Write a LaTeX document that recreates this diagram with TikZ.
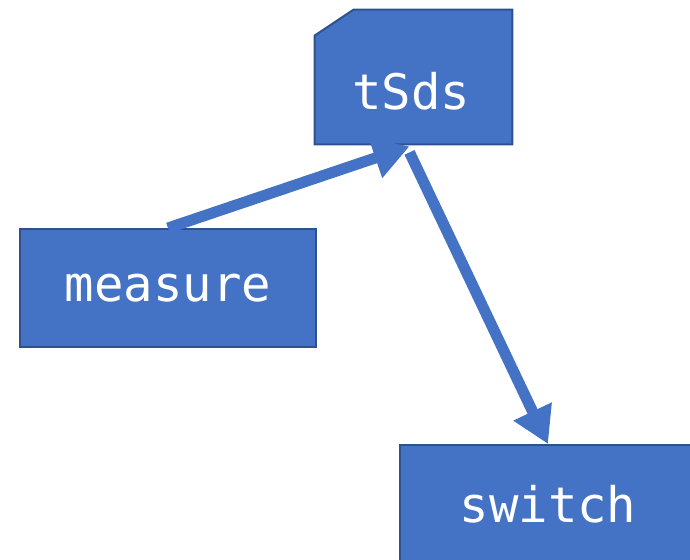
\documentclass[tikz,border=0pt]{standalone}
\usepackage{fontspec}
\setmonofont{DejaVu Sans Mono}
\usetikzlibrary{arrows.meta,positioning}
\definecolor{boxblue}{HTML}{4472C4}
\definecolor{boxedge}{HTML}{2F528F}

\begin{document}
\begin{tikzpicture}[x=0.5pt,y=-0.5pt,
    block/.style={fill=boxblue,draw=boxedge,line width=1pt,text=white,
                  font=\ttfamily\fontsize{24.5}{28}\selectfont,
                  minimum width=148pt,minimum height=59pt,inner sep=0pt},
    flow/.style={color=boxblue,line width=5.5pt,
                 -{Triangle[length=18pt,width=20pt]}}]
      \useasboundingbox (0,0) rectangle (690,560);
      \clip (0,0) rectangle (690,560);

      \node[block]             (measure) at (168,288) {measure};
      \node[block]             (switch)  at (548,504) {switch};
      \node[minimum width=98.5pt,minimum height=67pt,inner sep=0pt] (tSds) at (413.5,77) {};
      \filldraw[fill=boxblue,draw=boxedge,line width=1pt]
                ([yshift=-13pt]tSds.north west) -- ([xshift=19.5pt]tSds.north west)
                -- (tSds.north east) -- (tSds.south east) -- (tSds.south west) -- cycle;
      \node[text=white,font=\ttfamily\fontsize{24.5}{28}\selectfont] (tSdsText) at (411,91) {tSds};

      \draw[flow] (measure.north) -- ([xshift=-2pt,yshift=-1pt]tSds.south);
      \draw[flow] ([xshift=-2pt,yshift=-4pt]tSds.south) -- (switch.north);
\end{tikzpicture}
\end{document}
